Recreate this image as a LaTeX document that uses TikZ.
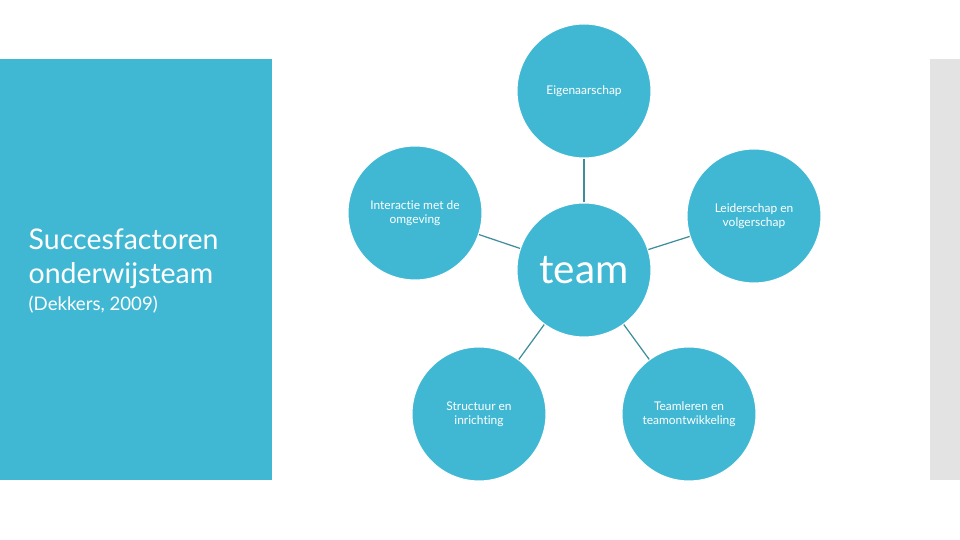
\documentclass[tikz,border=0pt]{standalone}
\usepackage{fontspec}
\setmainfont{Lato}[Ligatures=CommonOff]
\usetikzlibrary{positioning}
\definecolor{kaderblauw}{RGB}{65,184,211}
\definecolor{randgrijs}{RGB}{227,227,227}
\definecolor{lijnblauw}{RGB}{62,140,156}

\begin{document}
\begin{tikzpicture}[
  x=0.01cm, y=-0.01cm,
  bol/.style={circle, fill=kaderblauw, draw=white, line width=0.3pt,
              minimum size=134*0.01cm, inner sep=0pt, align=center,
              text=white, font=\fontsize{3.4pt}{4pt}\selectfont},
  verbinding/.style={draw=lijnblauw, line width=0.35pt}
]
  \useasboundingbox (0,0) rectangle (960,540);
  % achtergrondvlakken
  \fill[kaderblauw] (0,59) rectangle (272,480);
  \fill[randgrijs] (930,59) rectangle (960,480);
  % titel
  \node[anchor=base west, align=left, inner sep=0pt, text=white,
        font=\fontsize{8.1pt}{9.7pt}\selectfont] (titel) at (28,284)
        {Succesfactoren\\onderwijsteam};
  \node[anchor=base west, inner sep=0pt, text=white,
        font=\fontsize{5.3pt}{6pt}\selectfont] (bron) at (28,311)
        {(Dekkers, 2009)};
  % cirkels
  \node[bol, font=\fontsize{11.5pt}{12pt}\selectfont] (team) at (584,270) {team};
  \node[bol] (eigen) at (584,91) {Eigenaarschap};
  \node[bol] (inter) at (415,213) {Interactie met de\\omgeving};
  \node[bol] (leider) at (754,216) {Leiderschap en\\volgerschap};
  \node[bol] (structuur) at (479,414) {Structuur en\\inrichting};
  \node[bol] (leren) at (689,414) {Teamleren en\\teamontwikkeling};
  % verbindingen
  \foreach \doel in {eigen,inter,leider,structuur,leren}
    \draw[verbinding] (team) -- (\doel);
\end{tikzpicture}
\end{document}
